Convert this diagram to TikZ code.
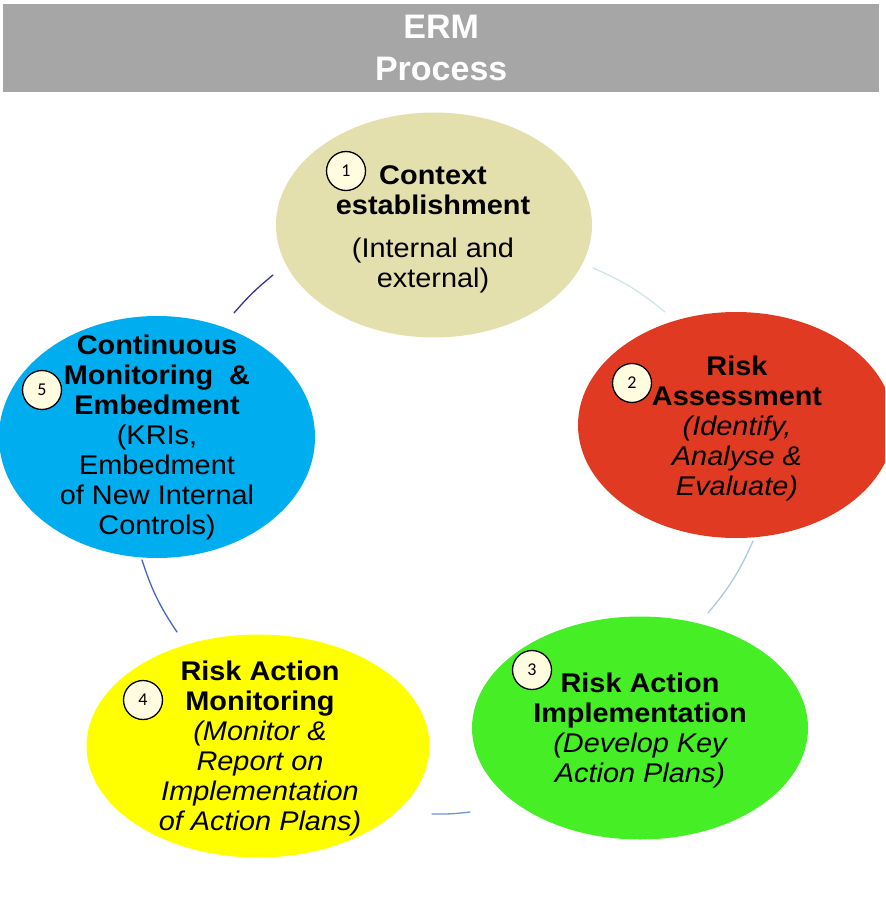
\documentclass[tikz,border=0pt]{standalone}
\usepackage{fontspec}
\setmainfont{Liberation Sans}
\newfontfamily\bodyfont{Liberation Sans}[FakeStretch=1.07]
\newfontfamily\numfont{Carlito}
\usetikzlibrary{shapes.geometric}

\definecolor{headgray}{HTML}{A6A6A6}
\definecolor{ctxfill}{HTML}{E3E0AE}
\definecolor{assessfill}{HTML}{E03A22}
\definecolor{implfill}{HTML}{45EE25}
\definecolor{monfill}{HTML}{FFFF00}
\definecolor{contfill}{HTML}{00ADEE}
\definecolor{numfill}{HTML}{FFFCE0}
\definecolor{arcA}{HTML}{CFE6EC}
\definecolor{arcB}{HTML}{A9CBE2}
\definecolor{arcC}{HTML}{6B98D0}
\definecolor{arcD}{HTML}{4A64C4}
\definecolor{arcE}{HTML}{34348E}

\tikzset{
  stage/.style={ellipse, inner sep=0pt, draw=none},
  stagetext/.style={anchor=north, align=center, inner sep=0pt,
    font=\bodyfont\fontsize{27}{30}\selectfont},
  numbadge/.style={circle, draw=black, line width=1.3pt, fill=numfill,
    minimum size=39pt, inner sep=0pt, font=\numfont\fontsize{18}{18}\selectfont},
  cyclearc/.style={line width=1.3pt, line cap=round}
}

\begin{document}
\begin{tikzpicture}[x=1pt,y=-1pt]
\useasboundingbox (0,0) rectangle (885,909);
\clip (0,0) rectangle (885,909);

% title bar
\node[fill=headgray, minimum width=876pt, minimum height=88pt, inner sep=0pt,
  anchor=north west, text=white, align=center,
  font=\bfseries\fontsize{34}{42}\selectfont] (hdr) at (3,4) {ERM\\Process};

% the five stages
\node[stage, fill=ctxfill,    minimum width=316pt, minimum height=225pt] (e1) at (434,225) {};
\node[stage, fill=assessfill, minimum width=316pt, minimum height=226pt] (e2) at (736,425) {};
\node[stage, fill=implfill,   minimum width=336pt, minimum height=223pt] (e3) at (640,728) {};
\node[stage, fill=monfill,    minimum width=343pt, minimum height=223pt] (e4) at (258,746) {};
\node[stage, fill=contfill,   minimum width=316pt, minimum height=242pt] (e5) at (157,437) {};

% stage captions
\node[stagetext] (t1) at (433,165) {\bfseries Context\\\bfseries establishment\\[13pt]
  (Internal and\\external)};
\node[stagetext] (t2) at (737,356) {\bfseries Risk\\\bfseries Assessment\\
  \itshape (Identify,\\\itshape Analyse \&\\\itshape Evaluate)};
\node[stagetext] (t3) at (640,673) {\bfseries Risk Action\\\bfseries Implementation\\
  \itshape (Develop Key\\\itshape Action Plans)};
\node[stagetext] (t4) at (260,661) {\bfseries Risk Action\\\bfseries Monitoring\\
  \itshape (Monitor \&\\\itshape Report on\\\itshape Implementation\\\itshape of Action Plans)};
\node[stagetext] (t5) at (157,335) {\bfseries Continuous\\\bfseries Monitoring \ \&\\
  \bfseries Embedment\\(KRIs,\\Embedment\\of New Internal\\Controls)};

% step numbers
\node[numbadge] (n1) at (346,171) {1};
\node[numbadge] (n2) at (632,383) {2};
\node[numbadge] (n3) at (532,670) {3};
\node[numbadge] (n4) at (143,700) {4};
\node[numbadge] (n5) at (42,390) {5};

% arcs of the cycle between stages
\coordinate (a12s) at (593,268); \coordinate (a12e) at (665,312);
\coordinate (a23s) at (753,541); \coordinate (a23e) at (708,613);
\coordinate (a34s) at (470,812); \coordinate (a34e) at (432,814);
\coordinate (a45s) at (177,632); \coordinate (a45e) at (142,560);
\coordinate (a51s) at (234,313); \coordinate (a51e) at (273,275);

\draw[cyclearc, arcA] (a12s) to[bend left=8] (a12e);
\draw[cyclearc, arcB] (a23s) to[bend left=8] (a23e);
\draw[cyclearc, arcC] (a34s) to[bend left=4] (a34e);
\draw[cyclearc, arcD] (a45s) to[bend left=8] (a45e);
\draw[cyclearc, arcE] (a51s) to[bend left=5] (a51e);
\end{tikzpicture}
\end{document}
